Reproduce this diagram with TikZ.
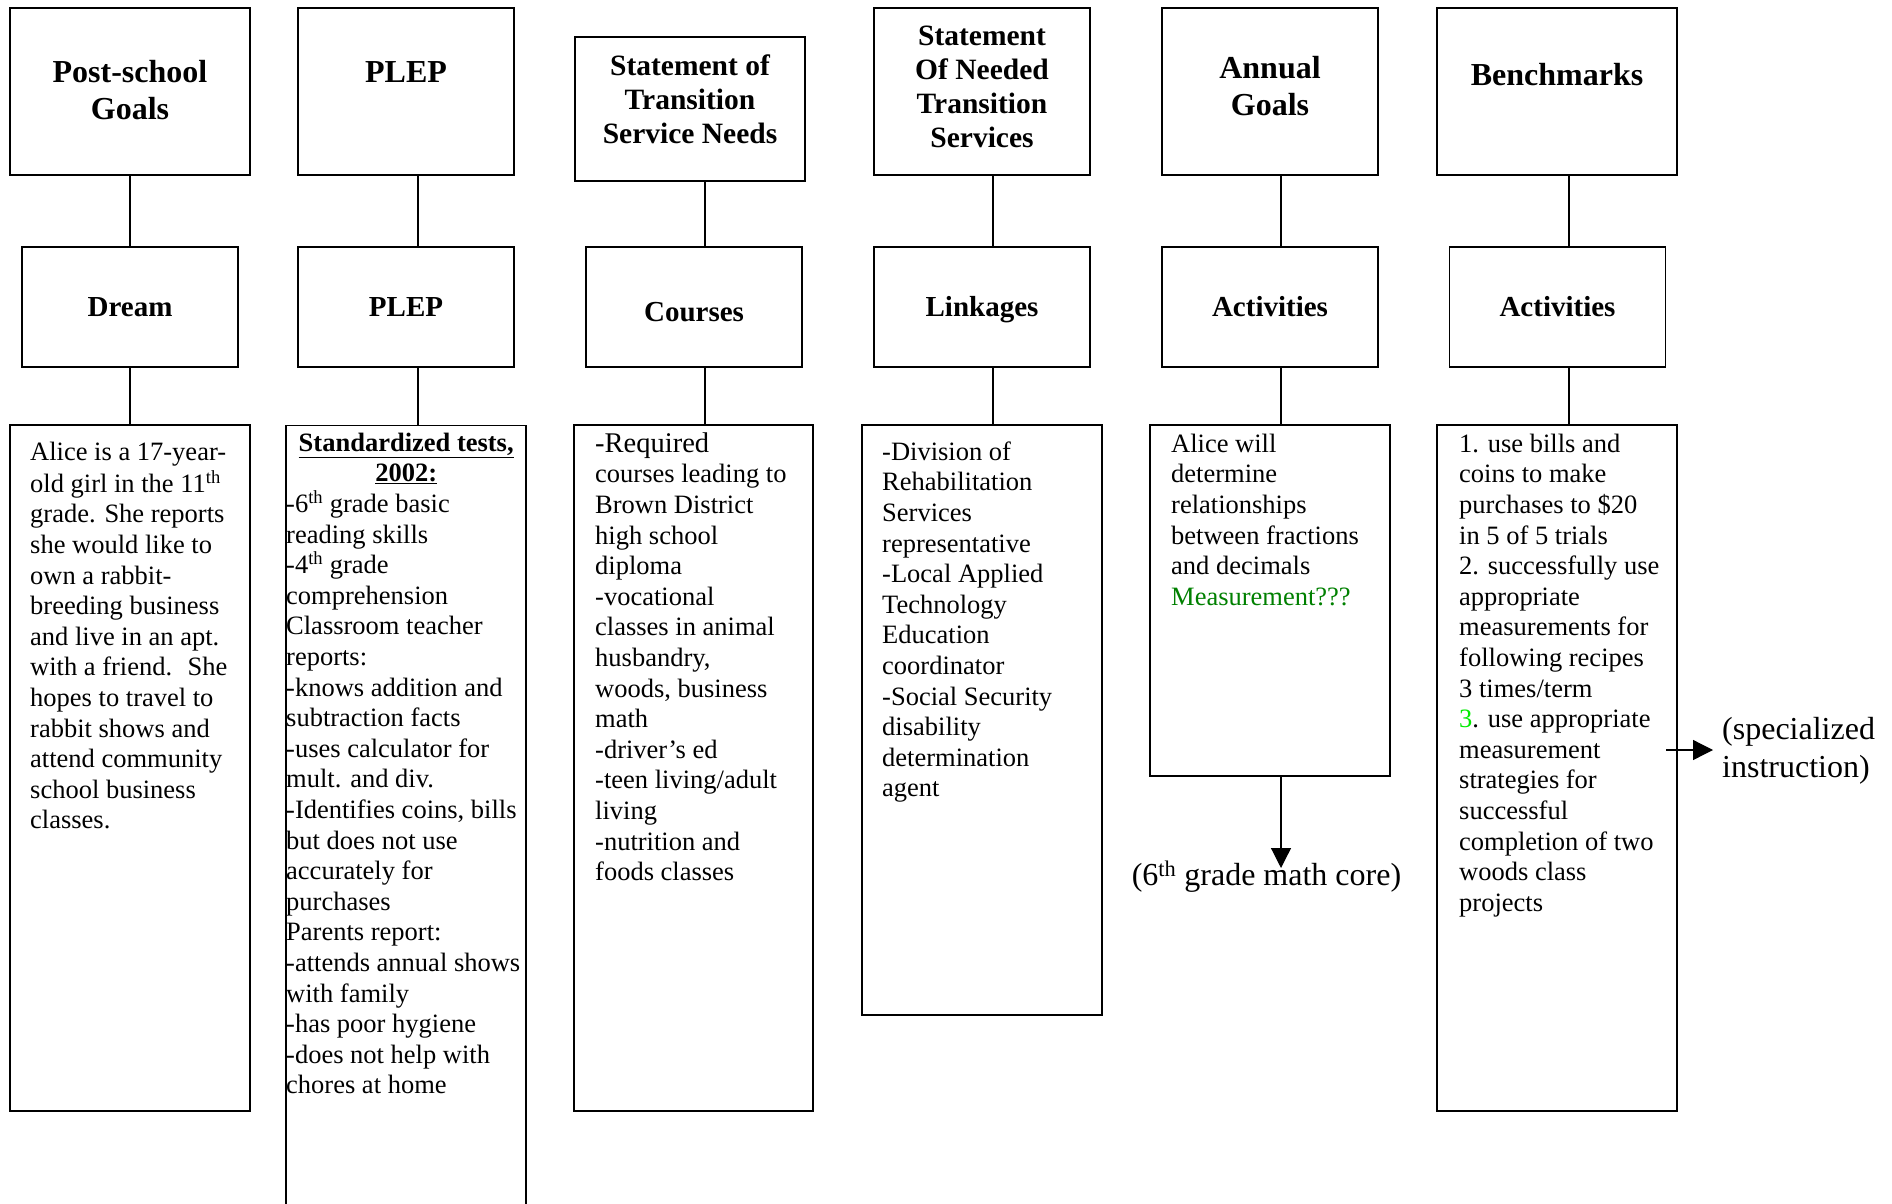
\documentclass[tikz,border=0pt]{standalone}
\usepackage{fontspec}
\setmainfont{Liberation Serif}
\usetikzlibrary{arrows.meta}
\definecolor{dgreen}{RGB}{0,128,0}
\definecolor{lgreen}{RGB}{0,235,0}
\begin{document}
\begin{tikzpicture}[x=1pt,y=-1pt,
  hbox/.style={draw,line width=1.8pt,inner sep=0pt},
  sbox/.style={draw,line width=1.3pt,inner sep=0pt},
  htext/.style={font=\fontsize{32}{37}\selectfont\bfseries,align=center,inner sep=0pt},
  stext/.style={font=\fontsize{29.5}{34}\selectfont\bfseries,align=center,inner sep=0pt},
  mtext/.style={font=\fontsize{29}{33}\selectfont\bfseries,inner sep=0pt,text height=20pt,text depth=6pt},
  body/.style={font=\fontsize{26.5}{30.6}\selectfont,align=left,anchor=north west,inner sep=0pt},
  conn/.style={line width=1.2pt},
  arr/.style={line width=1.2pt,-{Triangle[length=20pt,width=20pt]}}
]
\useasboundingbox (0,0) rectangle (1892,1204);
\fill[white] (0,0) rectangle (1892,1204);

% connector x positions
\coordinate (c1) at (130,0);
\coordinate (c2) at (418,0);
\coordinate (c3) at (705,0);
\coordinate (c4) at (993,0);
\coordinate (c5) at (1281,0);
\coordinate (c6) at (1569,0);

% row 1
\node[hbox,minimum width=240pt,minimum height=167pt] (h1) at (130,91.5) {};
\node[hbox,minimum width=216pt,minimum height=167pt] (h2) at (406,91.5) {};
\node[hbox,minimum width=230pt,minimum height=144pt] (h3) at (690,109) {};
\node[hbox,minimum width=216pt,minimum height=167pt] (h4) at (982,91.5) {};
\node[hbox,minimum width=216pt,minimum height=167pt] (h5) at (1270,91.5) {};
\node[hbox,minimum width=240pt,minimum height=167pt] (h6) at (1557,91.5) {};

\node[htext] (ht1) at (130,90) {Post-school\\Goals};
\node[htext] (ht2) at (406,72) {PLEP};
\node[stext] (ht3) at (690,99) {Statement of\\Transition\\Service Needs};
\node[stext] (ht4) at (982,87) {Statement\\Of Needed\\Transition\\Services};
\node[htext] (ht5) at (1270,86) {Annual\\Goals};
\node[htext] (ht6) at (1557,75) {Benchmarks};

% row 2
\node[hbox,minimum width=216pt,minimum height=120pt] (d1) at (130,307) {};
\node[hbox,minimum width=216pt,minimum height=120pt] (d2) at (406,307) {};
\node[hbox,minimum width=216pt,minimum height=120pt] (d3) at (694,307) {};
\node[hbox,minimum width=216pt,minimum height=120pt] (d4) at (982,307) {};
\node[hbox,minimum width=216pt,minimum height=120pt] (d5) at (1270,307) {};
\node[hbox,minimum width=216pt,minimum height=120pt] (d6) at (1557.5,307) {};

\node[mtext] (dt1) at (130,309) {Dream};
\node[mtext] (dt2) at (406,309) {PLEP};
\node[mtext] (dt3) at (694,314) {Courses};
\node[mtext] (dt4) at (982,309) {Linkages};
\node[mtext] (dt5) at (1270,309) {Activities};
\node[mtext] (dt6) at (1557.5,309) {Activities};

% row 3
\node[sbox,minimum width=240pt,minimum height=686pt] (b1) at (130,768) {};
\node[sbox,minimum width=240pt,minimum height=830pt,anchor=north] (b2) at (406,425) {};
\node[sbox,minimum width=239pt,minimum height=686pt] (b3) at (693.5,768) {};
\node[sbox,minimum width=240pt,minimum height=590pt] (b4) at (982,720) {};
\node[sbox,minimum width=240pt,minimum height=351pt] (b5) at (1270,600.5) {};
\node[sbox,minimum width=240pt,minimum height=686pt] (b6) at (1557,768) {};

\node[body] (bt1) at (30,438.6) {\strut Alice is a 17-year-\\old girl in the 11\textsuperscript{th}\\grade. She reports\\she would like to\\own a rabbit-\\breeding business\\and live in an apt.\\with a friend.~ She\\hopes to travel to\\rabbit shows and\\attend community\\school business\\classes.};

\node[body] (bt2) at (286,429.6) {\strut\makebox[240pt]{\bfseries\underline{Standardized tests,}}\\\makebox[240pt]{\bfseries\underline{2002:}}\\-6\textsuperscript{th} grade basic\\reading skills\\-4\textsuperscript{th} grade\\comprehension\\Classroom teacher\\reports:\\-knows addition and\\subtraction facts\\-uses calculator for\\mult. and div.\\-Identifies coins, bills\\but does not use\\accurately for\\purchases\\Parents report:\\-attends annual shows\\with family\\-has poor hygiene\\-does not help with\\chores at home};

\node[body] (bt3) at (595,430.6) {\strut{\fontsize{28.5}{30.6}\selectfont -Required}\\courses leading to\\Brown District\\high school\\diploma\\-vocational\\classes in animal\\husbandry,\\woods, business\\math\\-driver’s ed\\-teen living/adult\\living\\-nutrition and\\foods classes};

\node[body] (bt4) at (882,438.6) {\strut -Division of\\Rehabilitation\\Services\\representative\\-Local Applied\\Technology\\Education\\coordinator\\-Social Security\\disability\\determination\\agent};

\node[body] (bt5) at (1171,430.6) {\strut Alice will\\determine\\relationships\\between fractions\\and decimals\\\textcolor{dgreen}{Measurement???}};

\node[body] (bt6) at (1459,430.6) {\strut 1. use bills and\\coins to make\\purchases to \$20\\in 5 of 5 trials\\2. successfully use\\appropriate\\measurements for\\following recipes\\3 times/term\\\textcolor{lgreen}{3}. use appropriate\\measurement\\strategies for\\successful\\completion of two\\woods class\\projects};

% connectors row1 -> row2
\draw[conn] (h1.south -| c1) -- (d1.north -| c1);
\draw[conn] (h2.south -| c2) -- (d2.north -| c2);
\draw[conn] (h3.south -| c3) -- (d3.north -| c3);
\draw[conn] (h4.south -| c4) -- (d4.north -| c4);
\draw[conn] (h5.south -| c5) -- (d5.north -| c5);
\draw[conn] (h6.south -| c6) -- (d6.north -| c6);
% connectors row2 -> row3
\draw[conn] (d1.south -| c1) -- (b1.north -| c1);
\draw[conn] (d2.south -| c2) -- (b2.north -| c2);
\draw[conn] (d3.south -| c3) -- (b3.north -| c3);
\draw[conn] (d4.south -| c4) -- (b4.north -| c4);
\draw[conn] (d5.south -| c5) -- (b5.north -| c5);
\draw[conn] (d6.south -| c6) -- (b6.north -| c6);

% outcome labels and arrows
\node[font=\fontsize{32}{37}\selectfont,inner sep=0pt] (gm) at (1266.5,877) {(6\textsuperscript{th} grade math core)};
\node[font=\fontsize{32}{38}\selectfont,align=left,inner sep=0pt,anchor=west] (si) at (1722,751) {(specialized\\instruction)};
\coordinate (dtip) at (1281,868);
\coordinate (rs) at (1666,750);
\coordinate (rtip) at (1713,750);
\draw[arr] (b5.south -| c5) -- (dtip);
\draw[arr] (rs) -- (rtip);
\end{tikzpicture}
\end{document}
